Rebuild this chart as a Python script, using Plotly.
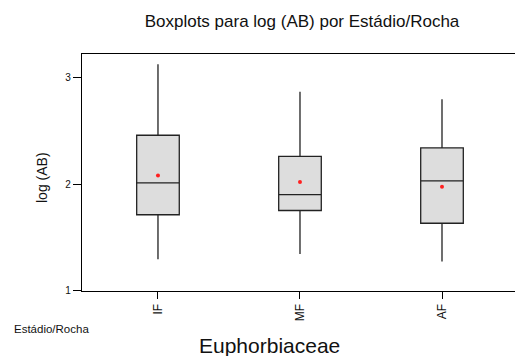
import plotly.graph_objects as go

categories = ["IF", "MF", "AF"]
lower = [1.29, 1.34, 1.27]
q1 = [1.71, 1.75, 1.63]
median = [2.01, 1.90, 2.03]
q3 = [2.46, 2.26, 2.34]
upper = [3.13, 2.87, 2.80]
means = [2.08, 2.02, 1.975]

font = "Liberation Sans, Arial, sans-serif"

fig = go.Figure()
fig.add_trace(go.Box(
    x=categories, q1=q1, median=median, q3=q3,
    lowerfence=lower, upperfence=upper,
    fillcolor="#dddddd", line=dict(color="#222222", width=1.3),
    width=0.3, whiskerwidth=0, showlegend=False, hoverinfo="skip",
))
fig.add_trace(go.Scatter(
    x=categories, y=means, mode="markers",
    marker=dict(color="#ff2020", size=4), showlegend=False,
))

fig.update_layout(
    width=515, height=356,
    margin=dict(l=82, r=0, t=54, b=65),
    plot_bgcolor="white", paper_bgcolor="white",
    font=dict(family=font, color="#111111"),
    title=dict(text="Boxplots para log (AB) por Estádio/Rocha",
               x=0.5864, xanchor="center", y=0.941, yanchor="middle",
               font=dict(size=17, family=font, color="#111111")),
    xaxis=dict(range=[-0.535, 2.514], showline=True, linecolor="black", linewidth=1.3,
               mirror=True, ticks="outside", ticklen=7, tickcolor="black",
               tickangle=-90, tickfont=dict(size=12), showgrid=False, zeroline=False),
    yaxis=dict(range=[0.991, 3.226], showline=True, linecolor="black", linewidth=1.3,
               ticks="outside", ticklen=8, tickcolor="black",
               tickvals=[1, 2, 3], tickfont=dict(size=10),
               showgrid=False, zeroline=False),
    annotations=[
        dict(text="log (AB)", textangle=-90, xref="paper", yref="paper",
             x=-0.0924, y=0.481, xanchor="center", yanchor="middle",
             showarrow=False, font=dict(size=14)),
        dict(text="Estádio/Rocha", xref="paper", yref="paper",
             x=-0.162, y=-0.160, xanchor="left", yanchor="middle",
             showarrow=False, font=dict(size=11.5)),
        dict(text="Euphorbiaceae", xref="paper", yref="paper",
             x=0.434, y=-0.228, xanchor="center", yanchor="middle",
             showarrow=False, font=dict(size=21)),
    ],
)

fig.write_html("out.html")
